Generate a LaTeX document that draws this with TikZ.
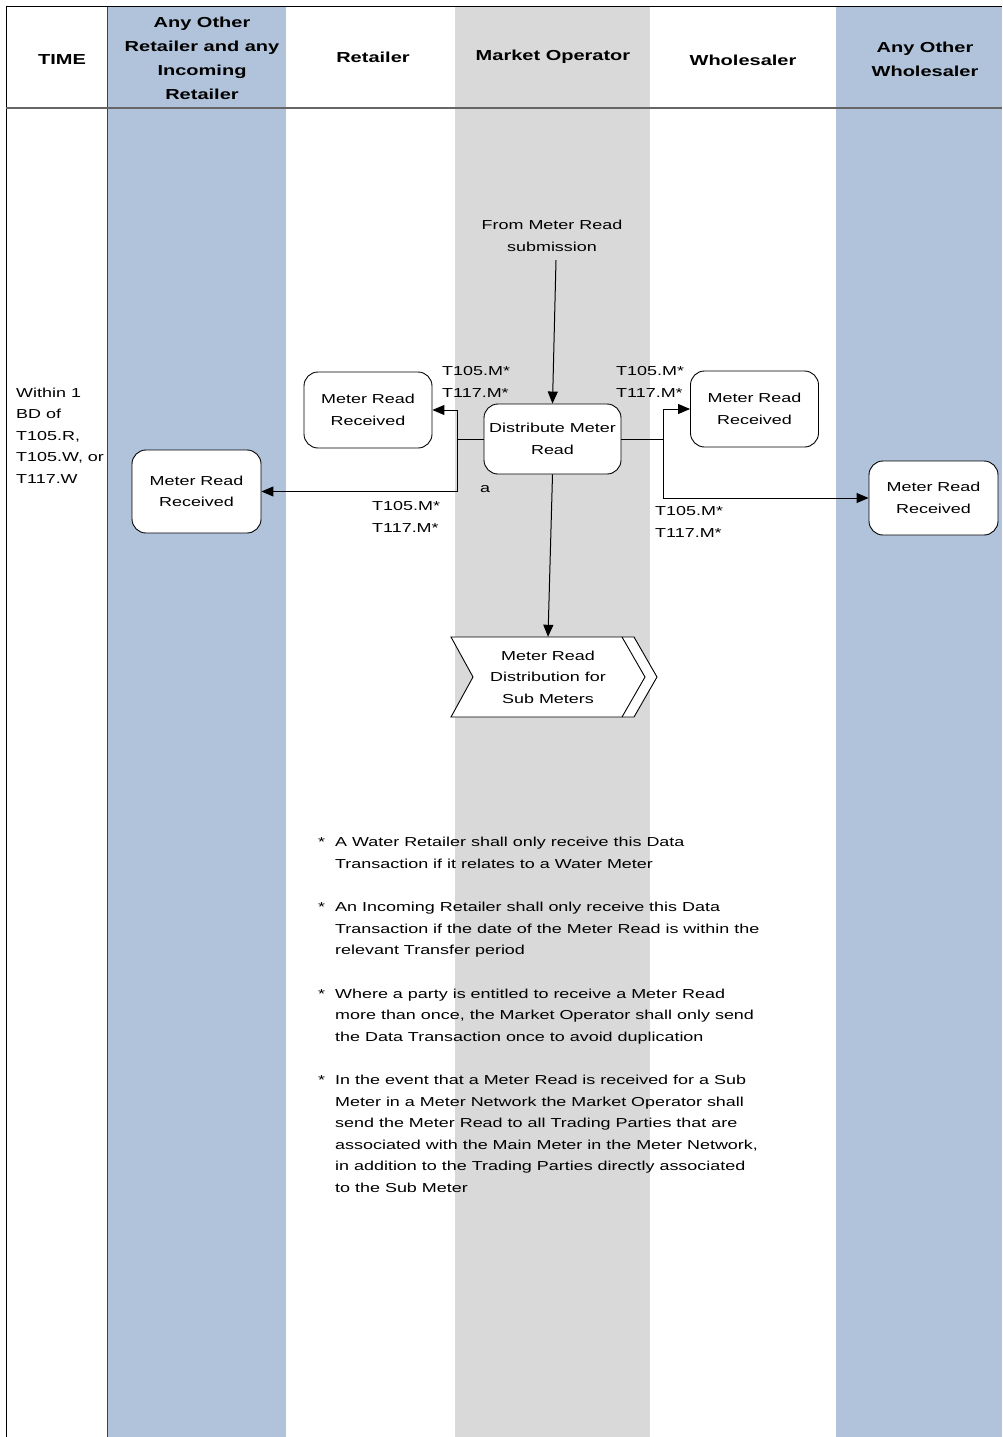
\documentclass[tikz,border=0pt]{standalone}
\usepackage{fontspec}
\setmainfont[FakeStretch=1.38]{Liberation Sans}
\usepackage{tikz}
\usetikzlibrary{calc,arrows.meta}
\definecolor{laneblue}{RGB}{176,195,219}
\definecolor{lanegray}{RGB}{217,217,217}

\begin{document}
\begin{tikzpicture}[x=1pt,y=-1pt,
  box/.style={draw,fill=white,rounded corners=14pt,line width=0.9pt,align=center,
    minimum width=128pt,minimum height=76pt,inner sep=0pt,txt},
  flow/.style={line width=1pt,-{Triangle[length=12pt,width=10pt]}},
  head/.style={font=\fontsize{14.5}{24}\selectfont\bfseries,align=center},
  txt/.style={font=\fontsize{13}{21.6}\selectfont},
  tcode/.style={txt,align=left,anchor=west,inner sep=0pt}]
  \useasboundingbox (0,0) rectangle (1002,1437);
  % swim lanes
  \fill [laneblue](108,7) rectangle (286,1437);
  \fill [lanegray](455,7) rectangle (650,1437);
  \fill [laneblue](836,7) rectangle (1002,1437);
  \draw [line width=1pt](6,1437)--(6,7)--(1002,7);
  \draw [line width=1pt][black!75](107,7)--(107,1437);
  \draw [line width=1.3pt][black!60](6,108)--(1002,108);
  \node [head] (hTime) at (62,60) {TIME};
  \node [head] (hAOR) at (202,58) {Any Other\\Retailer and any\\Incoming\\Retailer};
  \node [head] (hRet) at (373,57) {Retailer};
  \node [head] (hMO) at (553,57) {Market Operator};
  \node [head] (hWh) at (743,60) {Wholesaler};
  \node [head] (hAOW) at (925,59) {Any Other\\Wholesaler};
  \node [tcode] (tm) at (16,435.5) {Within 1\\BD of\\T105.R,\\T105.W, or\\T117.W};
  % process boxes
  \node [box] (ret) at (368,410) {Meter Read\\Received};
  \node [box,minimum width=137pt,minimum height=70pt] (dist) at (552.5,439) {Distribute Meter\\Read};
  \node [box] (wh) at (754.5,409) {Meter Read\\Received};
  \node [box,minimum width=129pt,minimum height=83pt] (aor) at (196.5,491.5) {Meter Read\\Received};
  \node [box,minimum width=129pt,minimum height=74pt] (aow) at (933.5,498) {Meter Read\\Received};
  % off-page chevron
  \draw [line width=0.9pt][fill=white](622,637)--(634,637)--(657,677)--(634,717)--(622,717)--cycle;
  \draw [line width=0.9pt][fill=white](451,637)--(622,637)--(645,677)--(622,717)--(451,717)--(473,677)--cycle;
  \node [txt,align=center,minimum height=80pt,inner sep=0pt] (sub) at (548,677) {Meter Read\\Distribution for\\Sub Meters};
  \node [txt,align=center] (src) at (552,236) {From Meter Read\\submission};
  \draw [flow]($(src.south)+(4,5)$)--(dist.north);
  \coordinate (jl) at (457,439);
  \coordinate (jr) at (663,439);
  \draw [line width=1pt](dist.west)--(jl);
  \draw [flow](jl)|-(ret.east);
  \draw [flow](jl)|-(aor.east);
  \draw [line width=1pt](dist.east)--(jr);
  \draw [flow](jr)|-(wh.west);
  \draw [flow](jr)|-(aow.west);
  \draw [flow](dist.south)--(sub.north);
  \node [tcode] (lRet) at (442,382) {T105.M*\\T117.M*};
  \node [tcode] (lAOR) at (372,517) {T105.M*\\T117.M*};
  \node [tcode] (lWh) at (616,382) {T105.M*\\T117.M*};
  \node [tcode] (lAOW) at (655,522) {T105.M*\\T117.M*};
  \node [txt,inner sep=0pt] (a) at (485,489) {a};
  % notes
  \node [txt,anchor=north west,inner sep=0pt] (notes) at (318,831.5) {%
    \begin{tabular}{@{}l@{\hspace{10pt}}l@{}}
    {*} & A Water Retailer shall only receive this Data\\
      & Transaction if it relates to a Water Meter\\
      & \\
    {*} & An Incoming Retailer shall only receive this Data\\
      & Transaction if the date of the Meter Read is within the\\
      & relevant Transfer period\\
      & \\
    {*} & Where a party is entitled to receive a Meter Read\\
      & more than once, the Market Operator shall only send\\
      & the Data Transaction once to avoid duplication\\
      & \\
    {*} & In the event that a Meter Read is received for a Sub\\
      & Meter in a Meter Network the Market Operator shall\\
      & send the Meter Read to all Trading Parties that are\\
      & associated with the Main Meter in the Meter Network,\\
      & in addition to the Trading Parties directly associated\\
      & to the Sub Meter
    \end{tabular}};
\end{tikzpicture}
\end{document}
